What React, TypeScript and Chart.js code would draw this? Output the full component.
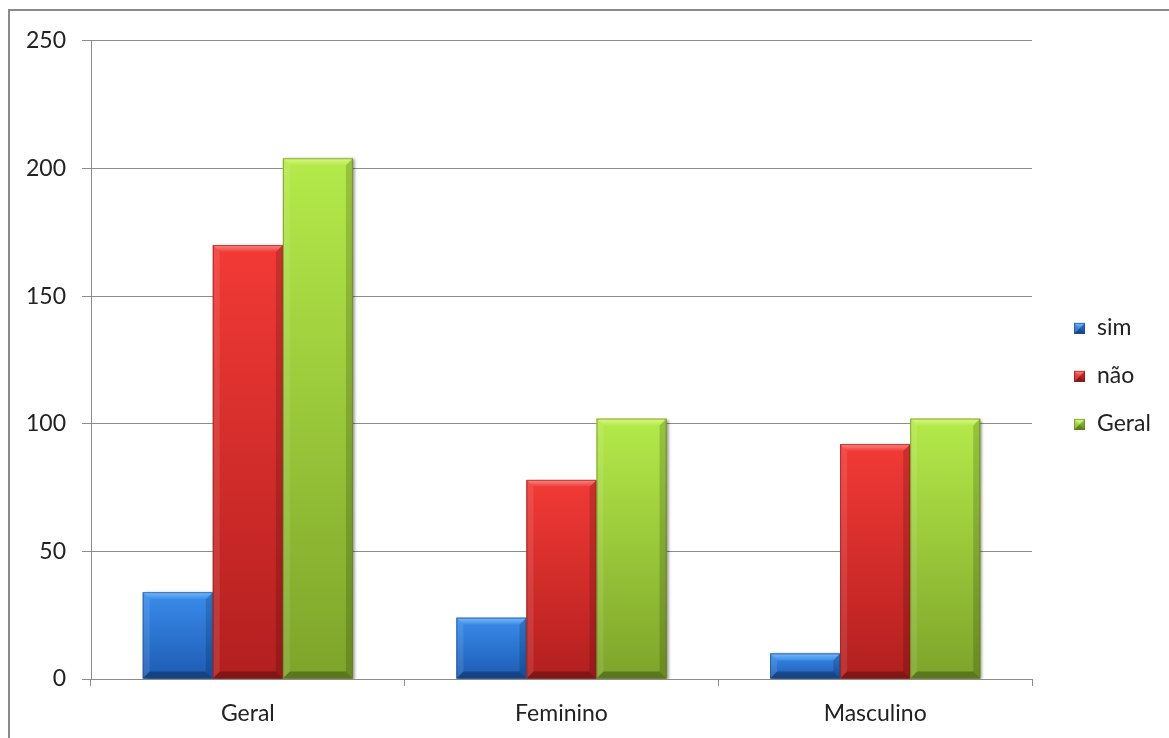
import { useEffect, useRef } from "react";
import { Chart, registerables } from "chart.js";

Chart.register(...registerables);

const categories = ["Geral", "Feminino", "Masculino"];
const seriesNames = ["sim", "não", "Geral"];
const simValues = [34, 24, 10];
const naoValues = [170, 78, 92];
const geralValues = [204, 102, 102];
const yTicks = [0, 50, 100, 150, 200, 250];

// face gradient (top, bottom), bevel highlight and outline per series
const faceTop = ["#3a8ceb", "#f23a36", "#b4ea4a"];
const faceBottom = ["#1d5bb3", "#b21f1f", "#7ea42a"];
const bevelLight = ["#7cbaf7", "#fa8a84", "#dcf78a"];
const edgeColor = ["#17498c", "#8a1616", "#5f7d1c"];

const FONT = "Lato, 'Open Sans', sans-serif";
const GRID = "#8c8c8c";
const TEXT = "#222222";

function drawBevelBox(ctx: CanvasRenderingContext2D, L: number, T: number, w: number, h: number, i: number, shadow: boolean) {
  if (h <= 0 || w <= 0) return;
  const R = L + w;
  const B = T + h;
  ctx.save();
  if (shadow) {
    ctx.shadowColor = "rgba(0,0,0,0.45)";
    ctx.shadowBlur = 3;
    ctx.shadowOffsetX = 2;
    ctx.shadowOffsetY = 1;
  }
  const g = ctx.createLinearGradient(0, T, 0, B);
  g.addColorStop(0, faceTop[i]);
  g.addColorStop(1, faceBottom[i]);
  ctx.fillStyle = g;
  ctx.fillRect(L, T, w, h);
  ctx.restore();

  const b = Math.min(7, w / 2, h / 2);
  ctx.save();
  // top bevel
  const tg = ctx.createLinearGradient(0, T, 0, T + b);
  tg.addColorStop(0, bevelLight[i]);
  tg.addColorStop(1, faceTop[i]);
  ctx.fillStyle = tg;
  ctx.beginPath();
  ctx.moveTo(L, T);
  ctx.lineTo(R, T);
  ctx.lineTo(R - b, T + b);
  ctx.lineTo(L + b, T + b);
  ctx.closePath();
  ctx.fill();
  // left bevel
  ctx.fillStyle = "rgba(255,255,255,0.10)";
  ctx.beginPath();
  ctx.moveTo(L, T);
  ctx.lineTo(L + b, T + b);
  ctx.lineTo(L + b, B - b);
  ctx.lineTo(L, B);
  ctx.closePath();
  ctx.fill();
  // right bevel
  ctx.fillStyle = "rgba(0,0,0,0.16)";
  ctx.beginPath();
  ctx.moveTo(R, T);
  ctx.lineTo(R, B);
  ctx.lineTo(R - b, B - b);
  ctx.lineTo(R - b, T + b);
  ctx.closePath();
  ctx.fill();
  // bottom bevel
  ctx.fillStyle = "rgba(0,0,0,0.28)";
  ctx.beginPath();
  ctx.moveTo(L, B);
  ctx.lineTo(R, B);
  ctx.lineTo(R - b, B - b);
  ctx.lineTo(L + b, B - b);
  ctx.closePath();
  ctx.fill();
  // outline
  ctx.strokeStyle = edgeColor[i];
  ctx.globalAlpha = 0.6;
  ctx.lineWidth = 1;
  ctx.strokeRect(L + 0.5, T + 0.5, w - 1, h - 1);
  ctx.restore();
}

const bevelBars = {
  id: "bevelBars",
  afterDatasetsDraw(chart: any) {
    const ctx = chart.ctx as CanvasRenderingContext2D;
    const area = chart.chartArea;
    ctx.save();
    ctx.beginPath();
    ctx.rect(area.left, area.top - 2, area.right - area.left + 6, area.bottom - area.top + 2);
    ctx.clip();
    chart.data.datasets.forEach((_ds: any, i: number) => {
      const meta = chart.getDatasetMeta(i);
      meta.data.forEach((el: any) => {
        const p = el.getProps(["x", "y", "base", "width"], true);
        drawBevelBox(ctx, p.x - p.width / 2, p.y, p.width, p.base - p.y, i, true);
      });
    });
    ctx.restore();
  },
};

const sideLegend = {
  id: "sideLegend",
  afterDraw(chart: any) {
    const ctx = chart.ctx as CanvasRenderingContext2D;
    const area = chart.chartArea;
    const x = area.right + 42;
    const mid = (area.top + area.bottom) / 2 + 16;
    const gap = 48;
    const n = chart.data.datasets.length;
    ctx.save();
    ctx.font = `23px ${FONT}`;
    ctx.textBaseline = "middle";
    ctx.textAlign = "left";
    chart.data.datasets.forEach((ds: any, i: number) => {
      const cy = mid + (i - (n - 1) / 2) * gap;
      drawBevelBox(ctx, x, cy - 5, 11, 11, i, false);
      ctx.fillStyle = TEXT;
      ctx.fillText(ds.label, x + 23, cy);
    });
    ctx.restore();
  },
};

export default function App() {
  const ref = useRef<HTMLCanvasElement>(null);

  useEffect(() => {
    if (!ref.current) return;
    const seriesValues = [simValues, naoValues, geralValues];
    const chart = new Chart(ref.current, {
      type: "bar",
      data: {
        labels: categories,
        datasets: seriesNames.map((name, i) => ({
          label: name,
          data: seriesValues[i],
          backgroundColor: faceTop[i],
          borderWidth: 0,
          barPercentage: 1,
          categoryPercentage: 0.67,
        })),
      },
      options: {
        animation: false,
        responsive: false,
        devicePixelRatio: 1,
        layout: { padding: { left: 0, right: 137, top: 29, bottom: 0 } },
        plugins: {
          legend: { display: false },
          tooltip: { enabled: false },
        },
        scales: {
          x: {
            grid: {
              display: true,
              drawOnChartArea: false,
              drawTicks: true,
              tickLength: 7,
              color: GRID,
              offset: true,
            },
            border: { display: true, color: GRID },
            ticks: {
              color: TEXT,
              font: { family: FONT, size: 23 },
              padding: 14,
            },
            afterFit: (s: any) => {
              s.height = 59;
            },
          },
          y: {
            min: 0,
            max: 250,
            afterBuildTicks: (s: any) => {
              s.ticks = yTicks.map((v) => ({ value: v }));
            },
            grid: { color: GRID, tickLength: 9, drawTicks: true },
            border: { display: true, color: GRID },
            ticks: {
              color: TEXT,
              font: { family: FONT, size: 23 },
              padding: 16,
            },
            afterFit: (s: any) => {
              s.width = 81;
            },
          },
        },
      },
      plugins: [bevelBars, sideLegend],
    });
    return () => chart.destroy();
  }, []);

  return (
    <div
      style={{
        position: "fixed",
        left: 8,
        top: 9,
        width: 1161,
        height: 729,
        borderTop: "2px solid #8a8a8a",
        borderLeft: "2px solid #8a8a8a",
        boxSizing: "border-box",
        background: "#fff",
        overflow: "hidden",
      }}
    >
      <canvas ref={ref} width={1159} height={727} style={{ display: "block" }} />
    </div>
  );
}
